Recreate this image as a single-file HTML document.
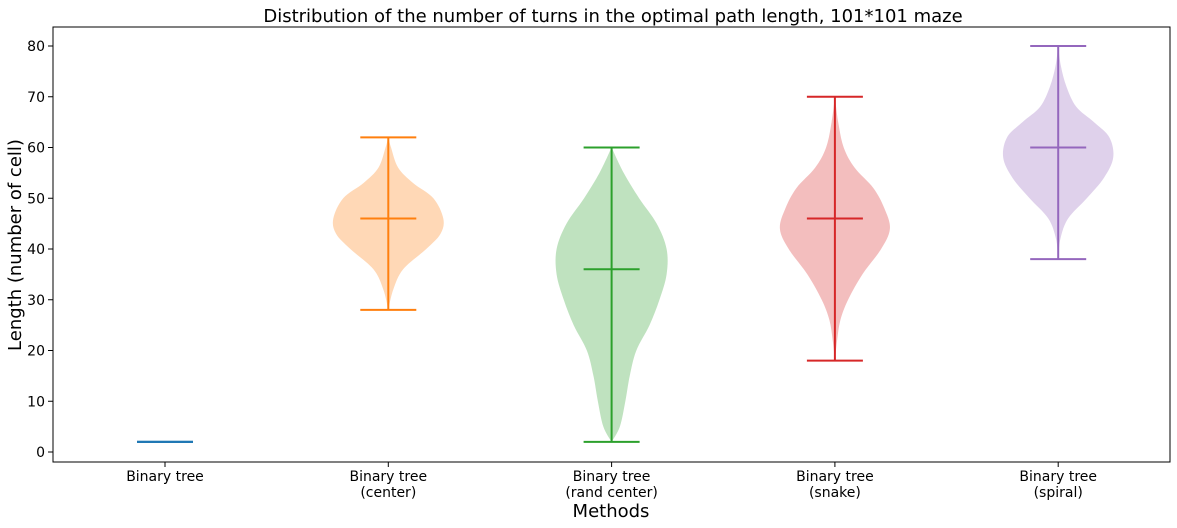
<!DOCTYPE html>
<html><head><meta charset="utf-8"><style>body{margin:0;background:#fff}svg{display:block;font-family:"DejaVu Sans","Liberation Sans",sans-serif}</style></head>
<body>
<svg id="c" width="1177" height="528"></svg>
<script>
const categories=["Binary tree","Binary tree\n(center)","Binary tree\n(rand center)","Binary tree\n(snake)","Binary tree\n(spiral)"];
const colors=["#1f77b4","#ff7f0e","#2ca02c","#d62728","#9467bd"];
const means=[2,46,36,46,60];
const mins=[2,28,2,18,38];
const maxs=[2,62,60,70,80];
// density profiles: y values and relative half-widths (0..1)
const profY=[[2,2],[28,32,36,40,43,46,50,53,56,60,62],[2,5,10,15,20,25,30,35,40,45,50,55,60],[18,22,26,30,35,40,44,48,52,56,60,65,70],[38,42,46,50,54,58,62,65,68,72,76,80]];
const profW=[[0,0],[0,0.09,0.27,0.69,0.95,1,0.82,0.45,0.18,0.05,0],[0,0.15,0.25,0.33,0.45,0.69,0.87,1,1,0.82,0.5,0.22,0],[0,0.04,0.1,0.24,0.5,0.84,1,0.9,0.7,0.36,0.16,0.06,0],[0,0.04,0.18,0.52,0.83,1,0.93,0.65,0.33,0.15,0.05,0]];
const yTicks=[0,10,20,30,40,50,60,70,80];
const L=53,R=1170,T=27,B=462;
const y=v=>452-v*5.075;
const x=i=>165+i*223.3;
const maxHalf=55,cap=28;
const NS="http://www.w3.org/2000/svg",svg=document.getElementById('c');
function el(t,a,txt){const e=document.createElementNS(NS,t);for(const k in a)e.setAttribute(k,a[k]);if(txt!=null)e.textContent=txt;svg.appendChild(e);return e;}
function smooth(pts){let d="M"+pts[0][0]+","+pts[0][1];for(let i=0;i<pts.length-1;i++){const p0=pts[Math.max(0,i-1)],p1=pts[i],p2=pts[i+1],p3=pts[Math.min(pts.length-1,i+2)];d+=" C"+(p1[0]+(p2[0]-p0[0])/6)+","+(p1[1]+(p2[1]-p0[1])/6)+" "+(p2[0]-(p3[0]-p1[0])/6)+","+(p2[1]-(p3[1]-p1[1])/6)+" "+p2[0]+","+p2[1];}return d;}
el('text',{x:613,y:22,'font-size':18,'text-anchor':'middle',},"Distribution of the number of turns in the optimal path length, 101*101 maze");
categories.forEach((c,i)=>{
  const cx=x(i);
  if(maxs[i]>mins[i]){
    const right=profY[i].map((v,k)=>[cx+profW[i][k]*maxHalf,y(v)]);
    const left=profY[i].map((v,k)=>[cx-profW[i][k]*maxHalf,y(v)]).reverse();
    const p=el('path',{d:smooth(right)+" L"+smooth(left).slice(1)+"Z",fill:colors[i],'fill-opacity':0.3});
    
    
  }
  const s={stroke:colors[i],'stroke-width':2};
  const v=el('line',Object.assign({x1:cx,x2:cx,y1:y(mins[i]),y2:y(maxs[i])},s));
  
  [[mins[i],'min'],[maxs[i],'max'],[means[i],'mean']].forEach(([val,n])=>{
    const l=el('line',Object.assign({x1:cx-cap,x2:cx+cap,y1:y(val),y2:y(val)},s));
    
  });
  el('line',{x1:cx,x2:cx,y1:B,y2:B+5,stroke:'#000'});
  c.split("\n").forEach((ln,k)=>{const t=el('text',{x:cx,y:481+k*16,'font-size':14,'text-anchor':'middle'},ln);});
});
yTicks.forEach(t=>{
  el('line',{x1:L-5,x2:L,y1:y(t),y2:y(t),stroke:'#000'});
  const e=el('text',{x:L-8,y:y(t)+5,'font-size':14,'text-anchor':'end'},t);
  
});
el('rect',{x:L,y:T,width:R-L,height:B-T,fill:'none',stroke:'#000','stroke-width':1,});
el('text',{x:611,y:517,'font-size':18,'text-anchor':'middle',},"Methods");
el('text',{x:0,y:0,'font-size':18,'text-anchor':'middle',transform:'translate(21,245) rotate(-90)',},"Length (number of cell)");
</script>
</body></html>
